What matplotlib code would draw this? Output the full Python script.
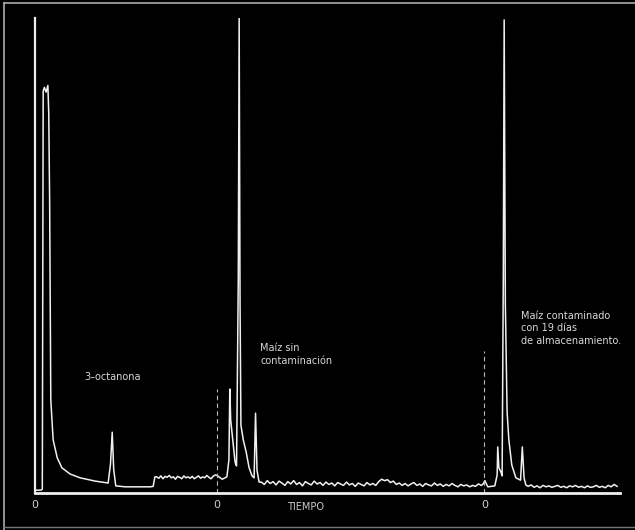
import numpy as np
import matplotlib.pyplot as plt
from matplotlib.lines import Line2D

# tiempo en unidades arbitrarias (0-100), respuesta del detector (0-100)
# inyeccion + 3-octanona
t_std = [0.0, 1.0, 1.25, 1.4, 1.6, 1.9, 2.2, 2.35, 2.5, 2.7, 3.1, 3.8, 4.6, 6.0, 7.7,
         10.3, 12.5, 12.9, 13.2, 13.45, 13.8, 15.4, 19.7, 20.2, 20.5]
s_std = [0.6, 0.6, 0.8, 84.6, 85.4, 84.4, 85.8, 80.0, 61.7, 19.6, 11.2, 7.4, 5.3, 4.0, 3.2,
         2.5, 2.1, 6.0, 12.8, 5.0, 1.5, 1.3, 1.3, 1.4, 3.4]

# linea base antes de la segunda inyeccion
base1 = [3.4, 3.1, 3.6, 3.0, 3.5, 3.3, 3.7, 3.2, 3.4, 2.9, 3.5, 3.3, 3.0, 3.6, 3.2,
         3.4, 3.1, 3.5, 3.0, 3.3, 3.6, 3.1, 3.4, 3.2, 3.7, 3.3, 3.0, 3.5, 3.8]

# maiz sin contaminacion
t_sano = [31.1, 32.0, 32.8, 33.15, 33.3, 33.45, 33.8, 34.2, 34.45, 34.75, 34.9, 35.05,
          35.2, 35.6, 36.1, 36.6, 37.1, 37.45, 37.7, 37.95, 38.3]
s_sano = [3.7, 2.9, 3.4, 7.0, 21.9, 15.4, 11.2, 6.5, 5.7, 45.0, 100.0, 40.0,
          14.3, 11.2, 8.6, 5.3, 3.6, 3.2, 16.8, 4.8, 2.3]

base2 = [2.3, 1.8, 2.6, 2.0, 2.4, 1.7, 2.5, 2.1, 1.6, 2.4, 1.9, 2.6, 1.8, 2.2, 1.5,
         2.4, 2.0, 1.7, 2.5, 1.9, 2.2, 1.6, 2.3, 1.8, 2.1, 1.5, 2.2, 1.9, 1.6, 2.3,
         1.7, 2.0, 1.4, 2.1, 1.8, 1.5, 2.2, 1.7, 2.0, 1.6, 2.4, 2.9, 2.6, 2.8, 2.2,
         2.5, 1.8, 2.1, 1.6, 2.0, 1.5, 1.9, 2.2, 1.6, 1.9, 1.4, 2.0, 1.7, 1.5, 2.1,
         1.6, 1.9, 1.4, 1.8, 1.5, 2.0, 1.6, 1.3, 1.8, 1.5, 1.7, 1.3, 1.6, 1.4, 1.9, 1.6]

# maiz contaminado, 19 dias
t_cont = [76.6, 76.9, 77.4, 78.6, 79.0, 79.1, 79.3, 79.65, 79.85, 80.05, 80.2, 80.4,
          80.7, 81.0, 81.5, 82.2, 83.0, 83.3, 83.6, 83.9]
s_cont = [1.9, 2.6, 1.3, 1.5, 3.8, 9.7, 5.3, 4.4, 3.6, 45.0, 99.6, 40.0,
          17.0, 11.2, 5.9, 3.2, 2.7, 9.7, 3.2, 1.7]

base3 = [1.4, 1.7, 1.2, 1.5, 1.1, 1.6, 1.3, 1.5, 1.2, 1.4, 1.6, 1.2, 1.4, 1.1, 1.5,
         1.3, 1.6, 1.2, 1.4, 1.1, 1.5, 1.2, 1.3, 1.6, 1.2, 1.4, 1.1, 1.6, 1.3, 1.8, 1.4]

inyecciones = [0.0, 31.1, 76.8]
marcas = [31.1, 76.8]
marca_alto = [22.0, 30.0]

t1 = np.linspace(20.8, 30.8, len(base1))
t2 = np.linspace(38.7, 76.3, len(base2))
t3 = np.linspace(84.3, 99.5, len(base3))
t = np.concatenate([t_std, t1, t_sano, t2, t_cont, t3])
s = np.concatenate([s_std, base1, s_sano, base2, s_cont, base3])

fig = plt.figure(figsize=(6.35, 5.3), dpi=100, facecolor='black')
ax = fig.add_axes([35 / 635, 37 / 530, 585 / 635, 475 / 530])
ax.set_facecolor('black')

ax.plot(t, s, color='#f0f0f0', lw=1.1)
ax.vlines(marcas, 0, marca_alto, colors='#bbbbbb', lw=0.8, linestyles=(0, (4, 3)))

ax.set_xlim(0, 100)
ax.set_ylim(0, 100)
for side in ['top', 'right']:
    ax.spines[side].set_visible(False)
ax.spines['left'].set_color('#f0f0f0')
ax.spines['left'].set_linewidth(1.6)
ax.spines['bottom'].set_color('#f0f0f0')
ax.spines['bottom'].set_linewidth(2.0)
ax.set_yticks([])
ax.set_xticks(inyecciones)
ax.set_xticklabels(['0', '0', '0'])
ax.tick_params(axis='x', length=0, pad=5, colors='#cccccc', labelsize=8)

ax.text(46.2, -3.0, 'TIEMPO', color='#cccccc', fontsize=7, ha='center', va='center',
        clip_on=False)
ax.text(8.4, 24.4, '3–octanona', color='#d8d8d8', fontsize=7, ha='left', va='center')
ax.text(38.5, 31.5, 'Maíz sin\ncontaminación', color='#d8d8d8', fontsize=7,
        ha='left', va='top', linespacing=1.3)
ax.text(83.1, 38.3, 'Maíz contaminado\ncon 19 días\nde almacenamiento.', color='#d8d8d8',
        fontsize=7, ha='left', va='top', linespacing=1.3)

# borde de la fotografia
fig.add_artist(Line2D([4 / 635, 4 / 635], [0, 1 - 3 / 530], color='#aaaaaa', lw=1.2))
fig.add_artist(Line2D([4 / 635, 1], [1 - 3 / 530, 1 - 3 / 530], color='#aaaaaa', lw=1.2))
fig.add_artist(Line2D([4 / 635, 1], [3 / 530, 3 / 530], color='#777777', lw=1.0))

fig.savefig('out.png', dpi=100, facecolor='black')
